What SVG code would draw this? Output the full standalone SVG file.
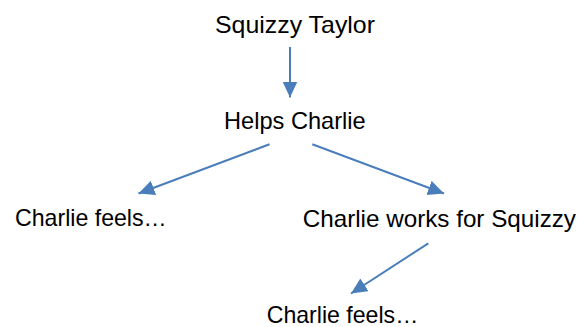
<svg xmlns="http://www.w3.org/2000/svg" width="587" height="327" viewBox="0 0 587 327">
<style>
.lbl{font-family:"Liberation Sans",Arial,sans-serif;font-size:24px;fill:#000}
.edge{stroke:#4A7EBB;stroke-width:2;fill:none}
</style>
<defs>
<marker id="ah" markerUnits="userSpaceOnUse" markerWidth="16" markerHeight="16" refX="16" refY="7.5" orient="auto">
<path d="M0,0 L16,7.5 L0,15 z" fill="#4A7EBB"/>
</marker>
</defs>
<rect width="587" height="327" fill="#fff"/>
<g id="connectors">
<line class="edge" x1="290" y1="47" x2="290" y2="97.5" marker-end="url(#ah)"/>
<line class="edge" x1="269.5" y1="144.3" x2="138.5" y2="193.5" marker-end="url(#ah)"/>
<line class="edge" x1="312.3" y1="144.3" x2="444" y2="193.5" marker-end="url(#ah)"/>
<line class="edge" x1="428.3" y1="243.3" x2="351" y2="293.5" marker-end="url(#ah)"/>
</g>
<g id="n1"><text class="lbl" x="215" y="33.3" textLength="160" lengthAdjust="spacingAndGlyphs">Squizzy Taylor</text></g>
<g id="n2"><text class="lbl" x="224" y="129.3" textLength="141.7" lengthAdjust="spacingAndGlyphs">Helps Charlie</text></g>
<g id="n3"><text class="lbl" x="15" y="225.7" textLength="151.7" lengthAdjust="spacingAndGlyphs">Charlie feels…</text></g>
<g id="n4"><text class="lbl" x="302.7" y="226.7" textLength="273.3" lengthAdjust="spacingAndGlyphs">Charlie works for Squizzy</text></g>
<g id="n5"><text class="lbl" x="266.7" y="323.3" textLength="151.6" lengthAdjust="spacingAndGlyphs">Charlie feels…</text></g>
</svg>
